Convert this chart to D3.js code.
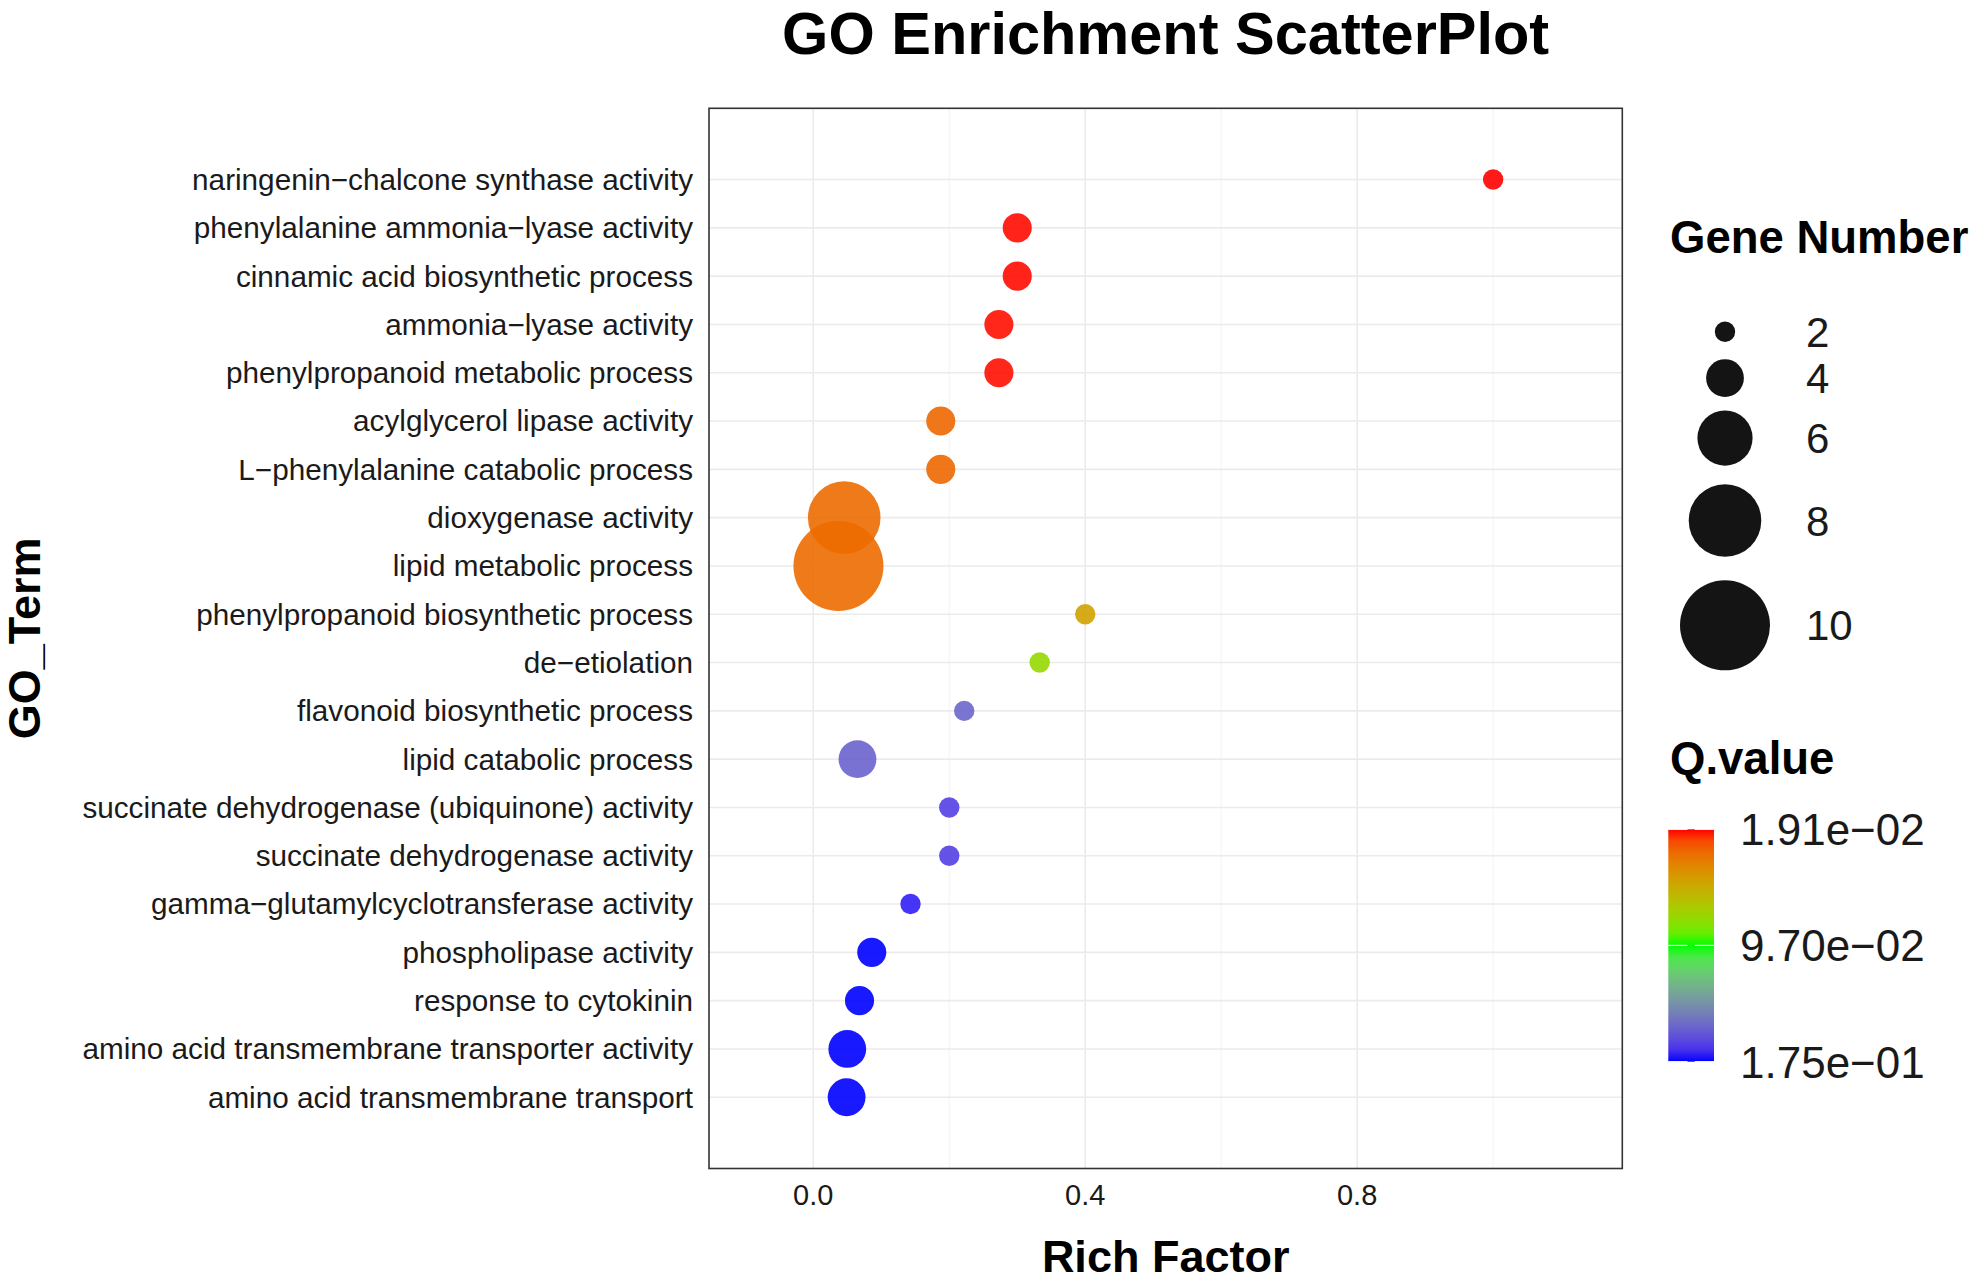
<!DOCTYPE html>
<html>
<head>
<meta charset="utf-8">
<script src="https://cdn.jsdelivr.net/npm/d3@7"></script>
<style>
  body { margin: 0; background: #fff; }
  text { font-family: "Liberation Sans", Arial, sans-serif; }
</style>
</head>
<body>
<div id="wrapper"></div>
<script>
// GO terms, top to bottom
var terms = [
  "naringenin\u2212chalcone synthase activity",
  "phenylalanine ammonia\u2212lyase activity",
  "cinnamic acid biosynthetic process",
  "ammonia\u2212lyase activity",
  "phenylpropanoid metabolic process",
  "acylglycerol lipase activity",
  "L\u2212phenylalanine catabolic process",
  "dioxygenase activity",
  "lipid metabolic process",
  "phenylpropanoid biosynthetic process",
  "de\u2212etiolation",
  "flavonoid biosynthetic process",
  "lipid catabolic process",
  "succinate dehydrogenase (ubiquinone) activity",
  "succinate dehydrogenase activity",
  "gamma\u2212glutamylcyclotransferase activity",
  "phospholipase activity",
  "response to cytokinin",
  "amino acid transmembrane transporter activity",
  "amino acid transmembrane transport"
]
var richFactor = [1.0, 0.3, 0.3, 0.273, 0.273, 0.1875, 0.1875, 0.0455, 0.037, 0.4,
                  0.333, 0.222, 0.065, 0.2, 0.2, 0.143, 0.086, 0.068, 0.05, 0.049]
var geneNumber = [2, 3, 3, 3, 3, 3, 3, 8, 10, 2, 2, 2, 4, 2, 2, 2, 3, 3, 4, 4]
var qValue = [0.0191, 0.0195, 0.0195, 0.0197, 0.0197, 0.034, 0.034, 0.035, 0.035, 0.054,
              0.078, 0.151, 0.152, 0.163, 0.163, 0.171, 0.175, 0.175, 0.175, 0.175]

var xMajor = [0.0, 0.4, 0.8]
var xMinor = [0.2, 0.6, 1.0]
var sizeBreaks = [2, 4, 6, 8, 10]
var qBreaks = [0.0191, 0.097, 0.175]
var qLabels = ["1.91e\u221202", "9.70e\u221202", "1.75e\u221201"]

var data = terms.map((t, i) => ({ term: t, rf: richFactor[i], n: geneNumber[i], q: qValue[i] }))

var W = 1969, H = 1283
var panel = { left: 709, right: 1622.3, top: 108.3, bottom: 1168.5 }

var svg = d3.select("#wrapper").append("svg")
    .attr("width", W).attr("height", H)

var xScale = d3.scaleLinear()
    .domain([-0.1534, 1.19])
    .range([panel.left, panel.right])

var yScale = d3.scalePoint()
    .domain(terms)
    .range([panel.top, panel.bottom])
    .padding(1.475)

var rScale = d3.scaleLinear()
    .domain([2, 10])
    .range([10.2, 45])

var colorScale = d3.scaleLinear()
    .domain(qBreaks)
    .range(["#ff0000", "#00ff00", "#0000ff"])
    .interpolate(d3.interpolateLab)

// grid
var grid = svg.append("g")
grid.selectAll(".minor").data(xMinor).join("line")
    .attr("x1", d => xScale(d)).attr("x2", d => xScale(d))
    .attr("y1", panel.top).attr("y2", panel.bottom)
    .attr("stroke", "#f2f2f2").attr("stroke-width", 0.9)
grid.selectAll(".major").data(xMajor).join("line")
    .attr("x1", d => xScale(d)).attr("x2", d => xScale(d))
    .attr("y1", panel.top).attr("y2", panel.bottom)
    .attr("stroke", "#ebebeb").attr("stroke-width", 1.6)
grid.selectAll(".hline").data(terms).join("line")
    .attr("x1", panel.left).attr("x2", panel.right)
    .attr("y1", d => yScale(d)).attr("y2", d => yScale(d))
    .attr("stroke", "#ebebeb").attr("stroke-width", 1.6)

// points
svg.append("g").selectAll("circle").data(data).join("circle")
    .attr("cx", d => xScale(d.rf))
    .attr("cy", d => yScale(d.term))
    .attr("r", d => rScale(d.n))
    .attr("fill", d => colorScale(d.q))
    .attr("fill-opacity", 0.9)

// panel border
svg.append("rect")
    .attr("x", panel.left).attr("y", panel.top)
    .attr("width", panel.right - panel.left).attr("height", panel.bottom - panel.top)
    .attr("fill", "none").attr("stroke", "#333").attr("stroke-width", 1.6)

// y labels
svg.append("g").selectAll("text").data(terms).join("text")
    .attr("x", 693)
    .attr("y", d => yScale(d))
    .attr("dy", "0.35em")
    .attr("text-anchor", "end")
    .attr("font-size", 29.7)
    .attr("fill", "#1a1a1a")
    .text(d => d)

// x tick labels
svg.append("g").selectAll("text").data(xMajor).join("text")
    .attr("x", d => xScale(d))
    .attr("y", 1205)
    .attr("text-anchor", "middle")
    .attr("font-size", 29)
    .attr("fill", "#1a1a1a")
    .text(d => d3.format(".1f")(d))

// titles
svg.append("text")
    .attr("x", (panel.left + panel.right) / 2).attr("y", 54)
    .attr("text-anchor", "middle")
    .attr("font-size", 59.5).attr("font-weight", "bold")
    .text("GO Enrichment ScatterPlot")

svg.append("text")
    .attr("x", (panel.left + panel.right) / 2).attr("y", 1272)
    .attr("text-anchor", "middle")
    .attr("font-size", 45).attr("font-weight", "bold")
    .text("Rich Factor")

svg.append("text")
    .attr("transform", "translate(40," + (panel.top + panel.bottom) / 2 + ") rotate(-90)")
    .attr("text-anchor", "middle")
    .attr("font-size", 45).attr("font-weight", "bold")
    .text("GO_Term")

// size legend
var sizeLegend = svg.append("g")
sizeLegend.append("text")
    .attr("x", 1670).attr("y", 253)
    .attr("font-size", 45.5).attr("font-weight", "bold")
    .text("Gene Number")

var keyH = sizeBreaks.map(n => Math.max(44, 2.58 * rScale(n)))
var keyY = []
var cy = 331.7
sizeBreaks.forEach((n, i) => {
    if (i > 0) cy += (keyH[i - 1] + keyH[i]) / 2
    keyY.push(cy)
})
sizeLegend.selectAll("circle").data(sizeBreaks).join("circle")
    .attr("cx", 1725)
    .attr("cy", (d, i) => keyY[i])
    .attr("r", d => rScale(d))
    .attr("fill", "#000").attr("fill-opacity", 0.92)
sizeLegend.selectAll(".lab").data(sizeBreaks).join("text")
    .attr("x", 1806)
    .attr("y", (d, i) => keyY[i])
    .attr("dy", "0.36em")
    .attr("font-size", 42)
    .attr("fill", "#1a1a1a")
    .text(d => d)

// colour legend
var colLegend = svg.append("g")
colLegend.append("text")
    .attr("x", 1670).attr("y", 774)
    .attr("font-size", 45.5).attr("font-weight", "bold")
    .text("Q.value")

var barScale = d3.scaleLinear()
    .domain([qBreaks[0], qBreaks[2]])
    .range([829.3, 1061.7])
var barX = 1668.3, barW = 45.7

var grad = svg.append("defs").append("linearGradient")
    .attr("id", "qgrad")
    .attr("x1", 0).attr("x2", 0).attr("y1", 0).attr("y2", 1)
d3.range(0, 1.0001, 0.05).forEach(t => {
    grad.append("stop")
        .attr("offset", t)
        .attr("stop-color", colorScale(qBreaks[0] + t * (qBreaks[2] - qBreaks[0])))
})
colLegend.append("rect")
    .attr("x", barX).attr("y", barScale.range()[0])
    .attr("width", barW).attr("height", barScale.range()[1] - barScale.range()[0])
    .attr("fill", "url(#qgrad)")

colLegend.selectAll(".tickl").data(qBreaks).join("line")
    .attr("x1", barX).attr("x2", barX + barW * 0.42)
    .attr("y1", d => barScale(d)).attr("y2", d => barScale(d))
    .attr("stroke", "#fff").attr("stroke-width", 1.2)
colLegend.selectAll(".tickr").data(qBreaks).join("line")
    .attr("x1", barX + barW * 0.58).attr("x2", barX + barW)
    .attr("y1", d => barScale(d)).attr("y2", d => barScale(d))
    .attr("stroke", "#fff").attr("stroke-width", 1.2)

colLegend.selectAll(".qlab").data(qBreaks).join("text")
    .attr("x", 1740)
    .attr("y", d => barScale(d))
    .attr("dy", "0.36em")
    .attr("font-size", 44)
    .attr("fill", "#1a1a1a")
    .text((d, i) => qLabels[i])
</script>
</body>
</html>
